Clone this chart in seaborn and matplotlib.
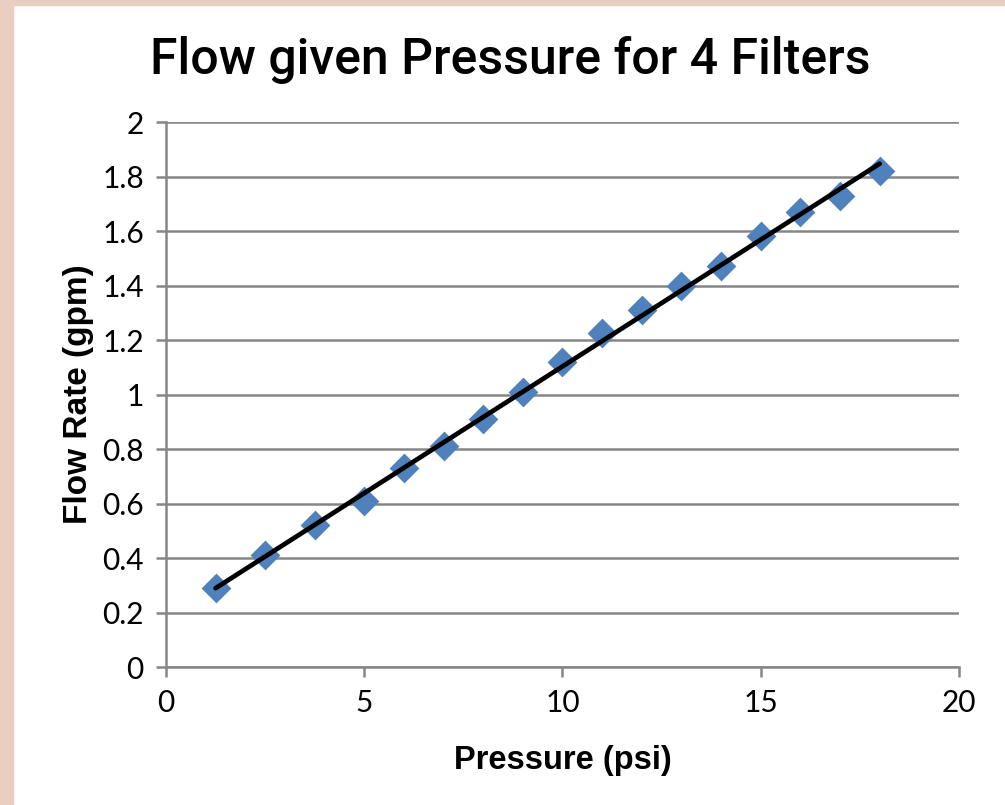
import seaborn as sns
import numpy as np
import pandas as pd
import matplotlib.pyplot as plt
from matplotlib.patches import Rectangle

pressure = [1.25, 2.5, 3.75, 5, 6, 7, 8, 9, 10, 11, 12, 13, 14, 15, 16, 17, 18]
flow = [0.29, 0.41, 0.52, 0.61, 0.73, 0.81, 0.91, 1.01, 1.12, 1.225, 1.31,
        1.40, 1.47, 1.58, 1.67, 1.73, 1.82]
xticks = [0, 5, 10, 15, 20]
yticks = [0, 0.2, 0.4, 0.6, 0.8, 1, 1.2, 1.4, 1.6, 1.8, 2]
ytick_labels = ['0', '0.2', '0.4', '0.6', '0.8', '1', '1.2', '1.4', '1.6', '1.8', '2']

df = pd.DataFrame({'Pressure (psi)': pressure, 'Flow Rate (gpm)': flow})

sns.set_style('white')
plt.rcParams['font.family'] = ['Lato', 'DejaVu Sans']
plt.rcParams['text.color'] = 'black'
plt.rcParams['axes.labelcolor'] = 'black'
plt.rcParams['xtick.labelcolor'] = 'black'
plt.rcParams['ytick.labelcolor'] = 'black'

fig = plt.figure(figsize=(10.05, 8.05), dpi=100, facecolor='white')
ax = fig.add_axes([0.1652, 0.1714, 0.789, 0.677])

sns.regplot(data=df, x='Pressure (psi)', y='Flow Rate (gpm)', ax=ax, ci=None,
            marker='D', truncate=True,
            scatter_kws={'color': '#4F81BD', 's': 230, 'alpha': 1, 'linewidths': 0},
            line_kws={'color': 'black', 'lw': 3.4})

ax.set_xlim(0, 20)
ax.set_ylim(0, 2)
ax.set_xticks(xticks)
ax.set_yticks(yticks)
ax.set_yticklabels(ytick_labels)
ax.yaxis.grid(True, color='#868686', lw=1.8)
ax.set_axisbelow(True)
for s in ['top', 'right']:
    ax.spines[s].set_visible(False)
for s in ['left', 'bottom']:
    ax.spines[s].set_color('#868686')
    ax.spines[s].set_linewidth(1.8)
ax.tick_params(axis='both', direction='out', length=7, width=1.8, color='#868686',
               labelcolor='black', labelsize=21.5, pad=9, left=True, bottom=True)

ax.set_xlabel('Pressure (psi)', family='Liberation Sans', weight='bold', fontsize=23.5,
              labelpad=20, color='black')
ax.set_ylabel('Flow Rate (gpm)', family='Liberation Sans', weight='bold', fontsize=24,
              labelpad=6, color='black')
fig.text(0.508, 0.925, 'Flow given Pressure for 4 Filters', family='Roboto', weight='medium',
         fontsize=36, ha='center', va='center', color='black')

fig.patches.append(Rectangle((0, 0), 13 / 1005, 1, transform=fig.transFigure,
                             color='#EACEBF', zorder=0))
fig.patches.append(Rectangle((0, 1 - 5 / 805), 1, 5 / 805, transform=fig.transFigure,
                             color='#EACEBF', zorder=0))

plt.savefig('out.png', dpi=100, facecolor='white')
plt.close()
